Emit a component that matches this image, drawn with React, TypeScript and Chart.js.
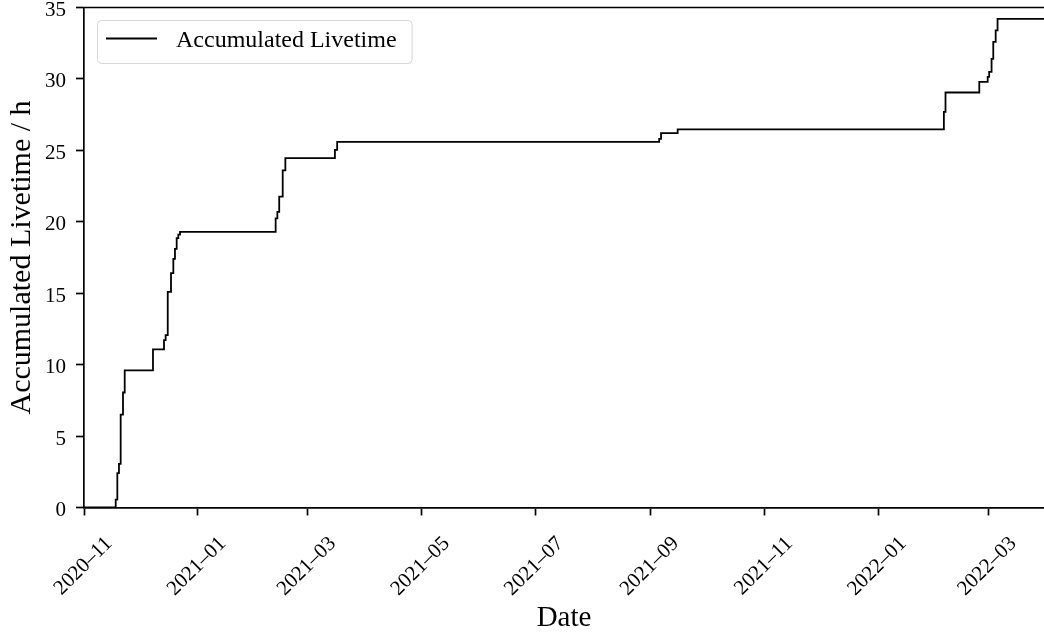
import { useEffect, useRef } from "react";
import { Chart, registerables } from "chart.js";

Chart.register(...registerables);

// Times at which the accumulated livetime stepped up (UTC), and the total after each step
const stepDates = [
  "2020-11-01T00:00",
  "2020-11-18T00:00", "2020-11-18T21:00", "2020-11-19T18:00", "2020-11-20T16:00",
  "2020-11-21T22:00", "2020-11-22T20:00",
  "2020-12-08T00:00", "2020-12-13T22:00", "2020-12-14T19:00", "2020-12-15T22:00",
  "2020-12-17T16:00", "2020-12-18T22:00", "2020-12-19T19:00", "2020-12-20T17:00",
  "2020-12-21T14:00", "2020-12-22T12:00",
  "2021-02-11T19:00", "2021-02-12T17:00", "2021-02-13T17:00", "2021-02-15T14:00",
  "2021-02-17T00:00",
  "2021-03-15T14:00", "2021-03-16T19:00",
  "2021-09-05T12:00", "2021-09-06T12:00", "2021-09-15T10:00",
  "2022-02-05T05:00", "2022-02-06T02:00", "2022-02-24T05:00", "2022-02-28T17:00",
  "2022-03-01T12:00", "2022-03-02T19:00", "2022-03-03T17:00", "2022-03-05T00:00",
  "2022-03-06T00:00",
];
const livetimeHours = [
  0,
  0.55, 2.4, 3.05, 6.5,
  8.05, 9.6,
  11.07, 11.72, 12.07, 15.1,
  16.4, 17.4, 18.1, 18.85,
  19.1, 19.3,
  20.24, 20.7, 21.76, 23.6,
  24.45,
  25.03, 25.6,
  25.8, 26.2, 26.47,
  27.7, 29.05, 29.8, 30.15,
  30.5, 31.4, 32.6, 33.4,
  34.2,
];

const axisStart = "2020-11-01T00:00";
const axisEnd = "2022-03-30T22:00";

const tickMonths = [
  "2020-11", "2021-01", "2021-03", "2021-05", "2021-07",
  "2021-09", "2021-11", "2022-01", "2022-03",
];
const tickLabels = [
  "2020–11", "2021–01", "2021–03", "2021–05", "2021–07",
  "2021–09", "2021–11", "2022–01", "2022–03",
];
const yTicks = [0, 5, 10, 15, 20, 25, 30, 35];

const seriesLabel = "Accumulated Livetime";
const yTitle = "Accumulated Livetime / h";
const xTitle = "Date";

const FONT = "'Liberation Serif', 'Times New Roman', serif";
const SPINE = 1.7;

const toMs = (s: string) =>
  Date.parse(s.length === 7 ? `${s}-01T00:00Z` : `${s}Z`);

// top spine of the frame
const topSpine = {
  id: "topSpine",
  afterDraw(chart: Chart) {
    const { ctx, chartArea } = chart;
    ctx.save();
    ctx.strokeStyle = "#000";
    ctx.lineWidth = SPINE;
    ctx.beginPath();
    ctx.moveTo(chartArea.left - SPINE / 2, chartArea.top);
    ctx.lineTo(chartArea.right, chartArea.top);
    ctx.stroke();
    ctx.restore();
  },
};

// framed legend in the upper-left corner of the plot area
const boxedLegend = {
  id: "boxedLegend",
  afterDraw(chart: Chart) {
    const { ctx, chartArea } = chart;
    const ds = chart.data.datasets[0] as any;
    const label = String(ds.label);
    ctx.save();
    ctx.font = `24px ${FONT}`;
    const textW = ctx.measureText(label).width;
    const x0 = chartArea.left + 13;
    const y0 = chartArea.top + 12.5;
    const lineLen = 51;
    const w = 9 + lineLen + 19 + textW + 15;
    const h = 43;
    ctx.beginPath();
    ctx.roundRect(x0 + 0.5, y0 + 0.5, w, h, 4);
    ctx.fillStyle = "rgba(255,255,255,0.8)";
    ctx.fill();
    ctx.strokeStyle = "#d6d6d6";
    ctx.lineWidth = 1;
    ctx.stroke();
    const cy = y0 + 18.5;
    ctx.strokeStyle = ds.borderColor;
    ctx.lineWidth = ds.borderWidth;
    ctx.beginPath();
    ctx.moveTo(x0 + 9, cy);
    ctx.lineTo(x0 + 9 + lineLen, cy);
    ctx.stroke();
    ctx.fillStyle = "#000";
    ctx.textBaseline = "alphabetic";
    ctx.textAlign = "left";
    ctx.fillText(label, x0 + 9 + lineLen + 19, y0 + 27);
    ctx.restore();
  },
};

export default function App() {
  const canvasRef = useRef<HTMLCanvasElement | null>(null);

  useEffect(() => {
    const canvas = canvasRef.current;
    if (!canvas) return;

    const points = stepDates.map((d, i) => ({ x: toMs(d), y: livetimeHours[i] }));
    points.push({ x: toMs(axisEnd), y: livetimeHours[livetimeHours.length - 1] });

    const chart = new Chart(canvas, {
      type: "line",
      data: {
        datasets: [
          {
            label: seriesLabel,
            data: points,
            borderColor: "#000000",
            borderWidth: 1.8,
            pointRadius: 0,
            stepped: true,
            fill: false,
          },
        ],
      },
      options: {
        animation: false,
        responsive: true,
        maintainAspectRatio: false,
        devicePixelRatio: 1,
        layout: { padding: { top: 7.5, right: 0, left: 0, bottom: 0 } },
        plugins: {
          legend: { display: false },
          tooltip: { enabled: false },
        },
        scales: {
          x: {
            type: "linear",
            min: toMs(axisStart),
            max: toMs(axisEnd),
            afterBuildTicks: (s: any) => {
              s.ticks = tickMonths.map((m) => ({ value: toMs(m) }));
            },
            afterFit: (s: any) => {
              s.height = 133.5;
              s.paddingLeft = 0;
              s.paddingRight = 0;
            },
            ticks: {
              autoSkip: false,
              minRotation: 45,
              maxRotation: 45,
              padding: 16,
              labelOffset: 25,
              color: "#000",
              font: { family: FONT, size: 21 },
              callback: (_v: any, i: number) => tickLabels[i],
            },
            grid: {
              drawOnChartArea: false,
              tickLength: 8,
              tickColor: "#000",
              tickWidth: SPINE,
            },
            border: { color: "#000", width: SPINE },
            title: {
              display: true,
              text: xTitle,
              color: "#000",
              font: { family: FONT, size: 29 },
              padding: { top: 0, bottom: 5 },
            },
          },
          y: {
            min: 0,
            max: 35,
            afterBuildTicks: (s: any) => {
              s.ticks = yTicks.map((v) => ({ value: v }));
            },
            afterFit: (s: any) => {
              s.width = 84;
              s.paddingTop = 0;
              s.paddingBottom = 0;
            },
            ticks: {
              padding: 10,
              labelOffset: 3,
              color: "#000",
              font: { family: FONT, size: 21 },
              callback: (v: any) => String(v),
            },
            grid: {
              drawOnChartArea: false,
              tickLength: 8,
              tickColor: "#000",
              tickWidth: SPINE,
            },
            border: { color: "#000", width: SPINE },
            title: {
              display: true,
              text: yTitle,
              color: "#000",
              font: { family: FONT, size: 30 },
              padding: { top: 4, bottom: 0 },
            },
          },
        },
      },
      plugins: [topSpine, boxedLegend],
    });

    return () => chart.destroy();
  }, []);

  return (
    <div
      style={{
        position: "fixed",
        left: 0,
        top: 0,
        width: 1044,
        height: 641,
        background: "#fff",
      }}
    >
      <canvas ref={canvasRef} />
    </div>
  );
}
